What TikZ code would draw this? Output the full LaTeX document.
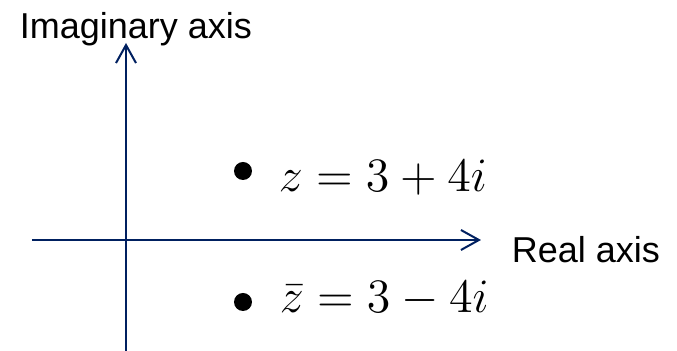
\documentclass[tikz,border=0pt]{standalone}
\usepackage{fontspec}
\setmainfont{Liberation Sans}
\usetikzlibrary{arrows.meta}
\definecolor{axisblue}{HTML}{002060}
\tikzset{
  axisline/.style={draw=axisblue, line width=0.65pt, -{Straight Barb[length=4.5pt,width=5pt,line width=0.5pt]}},
  lbl/.style={anchor=base west, inner sep=0pt, font=\fontsize{9}{11}\selectfont},
  mathlbl/.style={anchor=base west, inner sep=0pt, font=\fontsize{12}{14}\selectfont},
  pt/.style={fill=black}
}
\begin{document}
\begin{tikzpicture}[x=0.25pt,y=-0.25pt]
\useasboundingbox (0,0) rectangle (677,351);
\coordinate (vbot) at (126,351);
\coordinate (vtop) at (126,43);
\coordinate (hleft) at (32,240);
\coordinate (hright) at (481,240);
\draw[axisline] (vbot) -- (vtop);
\draw[axisline] (hleft) -- (hright);
\node[lbl] (imlab) at (19,39) {Imaginary axis};
\node[lbl] (relab) at (511,263) {Real axis};
\fill[pt] (243,171) circle[radius=9];
\fill[pt] (243,302) circle[radius=9];
\node[mathlbl] (z) at (278,192) {$z=3+4i$};
\node[mathlbl] (zbar) at (279,313) {$\bar{z}=3-4i$};
\end{tikzpicture}
\end{document}
